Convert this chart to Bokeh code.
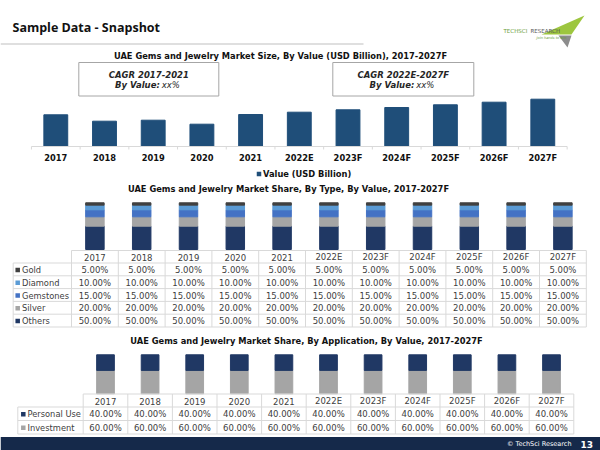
from bokeh.plotting import figure
from bokeh.models import Range1d, ColumnDataSource
from bokeh.core.properties import value
from bokeh.embed import file_html
from bokeh.resources import INLINE

# ---------------- data ----------------
years = ["2017", "2018", "2019", "2020", "2021", "2022E", "2023F", "2024F", "2025F", "2026F", "2027F"]
market_value = [3.17, 2.53, 2.63, 2.23, 3.20, 3.43, 3.67, 3.90, 4.17, 4.43, 4.73]
value_label = "Value (USD Billion)"

cagr_titles = ["CAGR 2017-2021", "CAGR 2022E-2027F"]
cagr_values = ["xx%", "xx%"]

type_names = ["Gold", "Diamond", "Gemstones", "Silver", "Others"]
gold = [5.0, 5.0, 5.0, 5.0, 5.0, 5.0, 5.0, 5.0, 5.0, 5.0, 5.0]
diamond = [10.0, 10.0, 10.0, 10.0, 10.0, 10.0, 10.0, 10.0, 10.0, 10.0, 10.0]
gemstones = [15.0, 15.0, 15.0, 15.0, 15.0, 15.0, 15.0, 15.0, 15.0, 15.0, 15.0]
silver = [20.0, 20.0, 20.0, 20.0, 20.0, 20.0, 20.0, 20.0, 20.0, 20.0, 20.0]
others = [50.0, 50.0, 50.0, 50.0, 50.0, 50.0, 50.0, 50.0, 50.0, 50.0, 50.0]

app_names = ["Personal Use", "Investment"]
personal_use = [40.0, 40.0, 40.0, 40.0, 40.0, 40.0, 40.0, 40.0, 40.0, 40.0, 40.0]
investment = [60.0, 60.0, 60.0, 60.0, 60.0, 60.0, 60.0, 60.0, 60.0, 60.0, 60.0]

title_text = "Sample Data - Snapshot"
chart1_title = "UAE Gems and Jewelry Market Size, By Value (USD Billion), 2017-2027F"
chart2_title = "UAE Gems and Jewelry Market Share, By Type, By Value, 2017-2027F"
chart3_title = "UAE Gems and Jewelry Market Share, By Application, By Value, 2017-2027F"

# ---------------- styles ----------------
W, H = 600, 450
NAVY = "#1F4E79"
C_OTHERS = "#203864"
C_SILVER = "#A5A5A5"
C_GEM = "#4472C4"
C_DIA = "#5B9BD5"
C_GOLD = "#404040"
GRID = "#D9D9D9"
TXT = "#262626"
FONT = value("DejaVu Sans")

type_colors = {"Gold": C_GOLD, "Diamond": C_DIA, "Gemstones": C_GEM, "Silver": C_SILVER, "Others": C_OTHERS}
app_colors = {"Personal Use": C_OTHERS, "Investment": C_SILVER}


def xr(pa, a, pb, b):
    s = (b - a) / (pb - pa)
    return Range1d(start=a - pa * s, end=a + (W - pa) * s)


def yr(pa, a, pb, b):
    s = (b - a) / (pb - pa)
    return Range1d(start=a + (H - pa) * s, end=a - pa * s)


p = figure(width=W, height=H, x_range=Range1d(0, W), y_range=Range1d(H, 0),
           output_backend="svg", toolbar_location=None,
           x_axis_location=None, y_axis_location=None,
           min_border=0, outline_line_color=None)
p.grid.visible = False
p.background_fill_color = "white"
p.border_fill_color = "white"

idx = list(range(len(years)))

# chart-specific scales
p.extra_x_ranges = {
    "c1x": xr(55.3, 0, 104.0, 1),
    "c2x": xr(94.4, 0, 141.2, 1),
    "c3x": xr(105.0, 0, 149.6, 1),
}
p.extra_y_ranges = {
    "c1y": yr(146.0, 0, 136.0, 1),
    "c2y": yr(249.0, 0, 202.3, 100),
    "c3y": yr(393.3, 0, 354.3, 100),
}

# ---------------- header ----------------
p.text(x=[12], y=[26.5], text=[title_text], text_font=value("Open Sans"), text_font_style="bold",
       text_font_size="12.5px", text_color="#111111", text_baseline="middle", text_align="left")
p.segment(x0=[0], y0=[43.5], x1=[363], y1=[43.5], line_color="#BFBFBF", line_width=1)

# logo (approximate)
p.patches(xs=[[541, 584, 571], [558, 571, 567]], ys=[[34, 15, 34], [35, 35, 47]],
          fill_color=["#9DC63F", "#8C8C8C"], line_color=None)
p.text(x=[503], y=[30], text=["TECHSCI"], text_font=FONT, text_font_size="5.5px",
       text_color="#6A9E3A", text_baseline="middle")
p.text(x=[530], y=[30], text=["RESEARCH"], text_font=FONT, text_font_size="5.5px",
       text_color="#555555", text_baseline="middle")
p.text(x=[536], y=[37.5], text=["Join hands to win"], text_font=FONT, text_font_size="3.5px",
       text_color="#6A9E3A", text_baseline="middle", text_font_style="italic")

# ---------------- chart 1 ----------------
p.text(x=[280], y=[55.5], text=[chart1_title], text_font=FONT, text_font_style="bold",
       text_font_size="8.3px", text_color="#111111", text_baseline="middle", text_align="center")

boxes_x = [(78.3, 218.3), (332.3, 473.3)]
for (bx0, bx1), t, v in zip(boxes_x, cagr_titles, cagr_values):
    cx = (bx0 + bx1) / 2
    p.quad(left=[bx0], right=[bx1], top=[62], bottom=[95.5], fill_color="white",
           line_color="#A6A6A6", line_width=1)
    p.text(x=[cx], y=[74], text=[t], text_font=FONT, text_font_style="bold italic",
           text_font_size="8.5px", text_color=TXT, text_baseline="middle", text_align="center")
    p.text(x=[cx + 11], y=[84.5], text=["By Value:"], text_font=FONT, text_font_style="bold italic",
           text_font_size="8.5px", text_color=TXT, text_baseline="middle", text_align="right")
    p.text(x=[cx + 13], y=[84.5], text=[v], text_font=FONT, text_font_style="italic",
           text_font_size="8.5px", text_color=TXT, text_baseline="middle", text_align="left")

p.vbar(x=idx, top=market_value, bottom=0, width=0.49, fill_color=NAVY, line_color=NAVY,
       x_range_name="c1x", y_range_name="c1y")
# category axis
p.segment(x0=[-0.5], y0=[146], x1=[len(years) - 0.5], y1=[146], line_color=GRID, line_width=1,
          x_range_name="c1x")
ticks = [i - 0.5 for i in range(len(years) + 1)]
p.segment(x0=ticks, y0=[146] * len(ticks), x1=ticks, y1=[149] * len(ticks), line_color=GRID,
          line_width=1, x_range_name="c1x")
p.text(x=idx, y=[157] * len(idx), text=years, text_font=FONT, text_font_style="bold",
       text_font_size="8.3px", text_color="#111111", text_baseline="middle", text_align="center",
       x_range_name="c1x")
# legend
p.rect(x=[258.5], y=[173.5], width=4.5, height=4.5, fill_color=NAVY, line_color=None)
p.text(x=[262.5], y=[173.5], text=[value_label], text_font=FONT, text_font_style="bold",
       text_font_size="8.3px", text_color="#111111", text_baseline="middle", text_align="left")

# ---------------- chart 2 ----------------
p.text(x=[288], y=[188.5], text=[chart2_title], text_font=FONT, text_font_style="bold",
       text_font_size="8.3px", text_color="#111111", text_baseline="middle", text_align="center")

src2 = ColumnDataSource(dict(i=idx, Others=others, Silver=silver, Gemstones=gemstones,
                             Diamond=diamond, Gold=gold))
stack2 = ["Others", "Silver", "Gemstones", "Diamond", "Gold"]
p.vbar_stack(stack2, x="i", width=0.395, color=[type_colors[s] for s in stack2], source=src2,
             x_range_name="c2x", y_range_name="c2y")

type_rows = {"Gold": gold, "Diamond": diamond, "Gemstones": gemstones, "Silver": silver, "Others": others}


def draw_table(left, col0, colw, top, head_h, row_h, names, rows, colors, keyx, labx):
    ncol = len(years)
    right = col0 + colw * ncol
    body_top = top + head_h
    bottom = body_top + row_h * len(names)
    # horizontal lines
    hx0, hx1, hy = [col0], [right], [top]
    for r in range(len(names) + 1):
        hx0.append(left)
        hx1.append(right)
        hy.append(body_top + r * row_h)
    p.segment(x0=hx0, y0=hy, x1=hx1, y1=hy, line_color=GRID, line_width=1)
    # vertical lines
    vx = [col0 + c * colw for c in range(ncol + 1)]
    p.segment(x0=vx, y0=[top] * len(vx), x1=vx, y1=[bottom] * len(vx), line_color=GRID, line_width=1)
    p.segment(x0=[left], y0=[body_top], x1=[left], y1=[bottom], line_color=GRID, line_width=1)
    # header
    cx = [col0 + colw * (c + 0.5) for c in range(ncol)]
    p.text(x=cx, y=[top + head_h / 2 + 0.5] * ncol, text=years, text_font=FONT, text_font_size="8.5px",
           text_color="#404040", text_baseline="middle", text_align="center")
    for r, name in enumerate(names):
        cy = body_top + row_h * (r + 0.5) + 0.5
        p.rect(x=[keyx], y=[cy], width=4.5, height=4.5, fill_color=colors[name], line_color=None)
        p.text(x=[labx], y=[cy], text=[name], text_font=FONT, text_font_size="8.3px",
               text_color="#404040", text_baseline="middle", text_align="left")
        p.text(x=cx, y=[cy] * ncol, text=[f"{v:.2f}%" for v in rows[name]], text_font=FONT,
               text_font_size="8.5px", text_color="#404040", text_baseline="middle", text_align="center")


draw_table(12.7, 71.0, 46.8, 250.0, 12.5, 12.8, type_names, type_rows, type_colors, 17.2, 21.5)

# ---------------- chart 3 ----------------
p.text(x=[306], y=[340.5], text=[chart3_title], text_font=FONT, text_font_style="bold",
       text_font_size="8.3px", text_color="#111111", text_baseline="middle", text_align="center")

src3 = ColumnDataSource(dict(i=idx, Investment=investment, PersonalUse=personal_use))
p.vbar_stack(["Investment", "PersonalUse"], x="i", width=0.397, color=[C_SILVER, C_OTHERS],
             source=src3, x_range_name="c3x", y_range_name="c3y")

app_rows = {"Personal Use": personal_use, "Investment": investment}
draw_table(17.3, 82.7, 44.6, 393.5, 13.0, 13.5, app_names, app_rows, app_colors, 22.8, 27.0)

# ---------------- footer ----------------
p.quad(left=[0], right=[W], top=[436.5], bottom=[H], fill_color="#15294A", line_color=None)
p.text(x=[571], y=[443.5], text=["\u00a9 TechSci Research"], text_font=FONT, text_font_size="6.5px",
       text_color="white", text_baseline="middle", text_align="right")
p.text(x=[580], y=[443.5], text=["13"], text_font=FONT, text_font_style="bold", text_font_size="9px",
       text_color="white", text_baseline="middle", text_align="left")

open("out.html", "w").write(file_html(p, INLINE))
